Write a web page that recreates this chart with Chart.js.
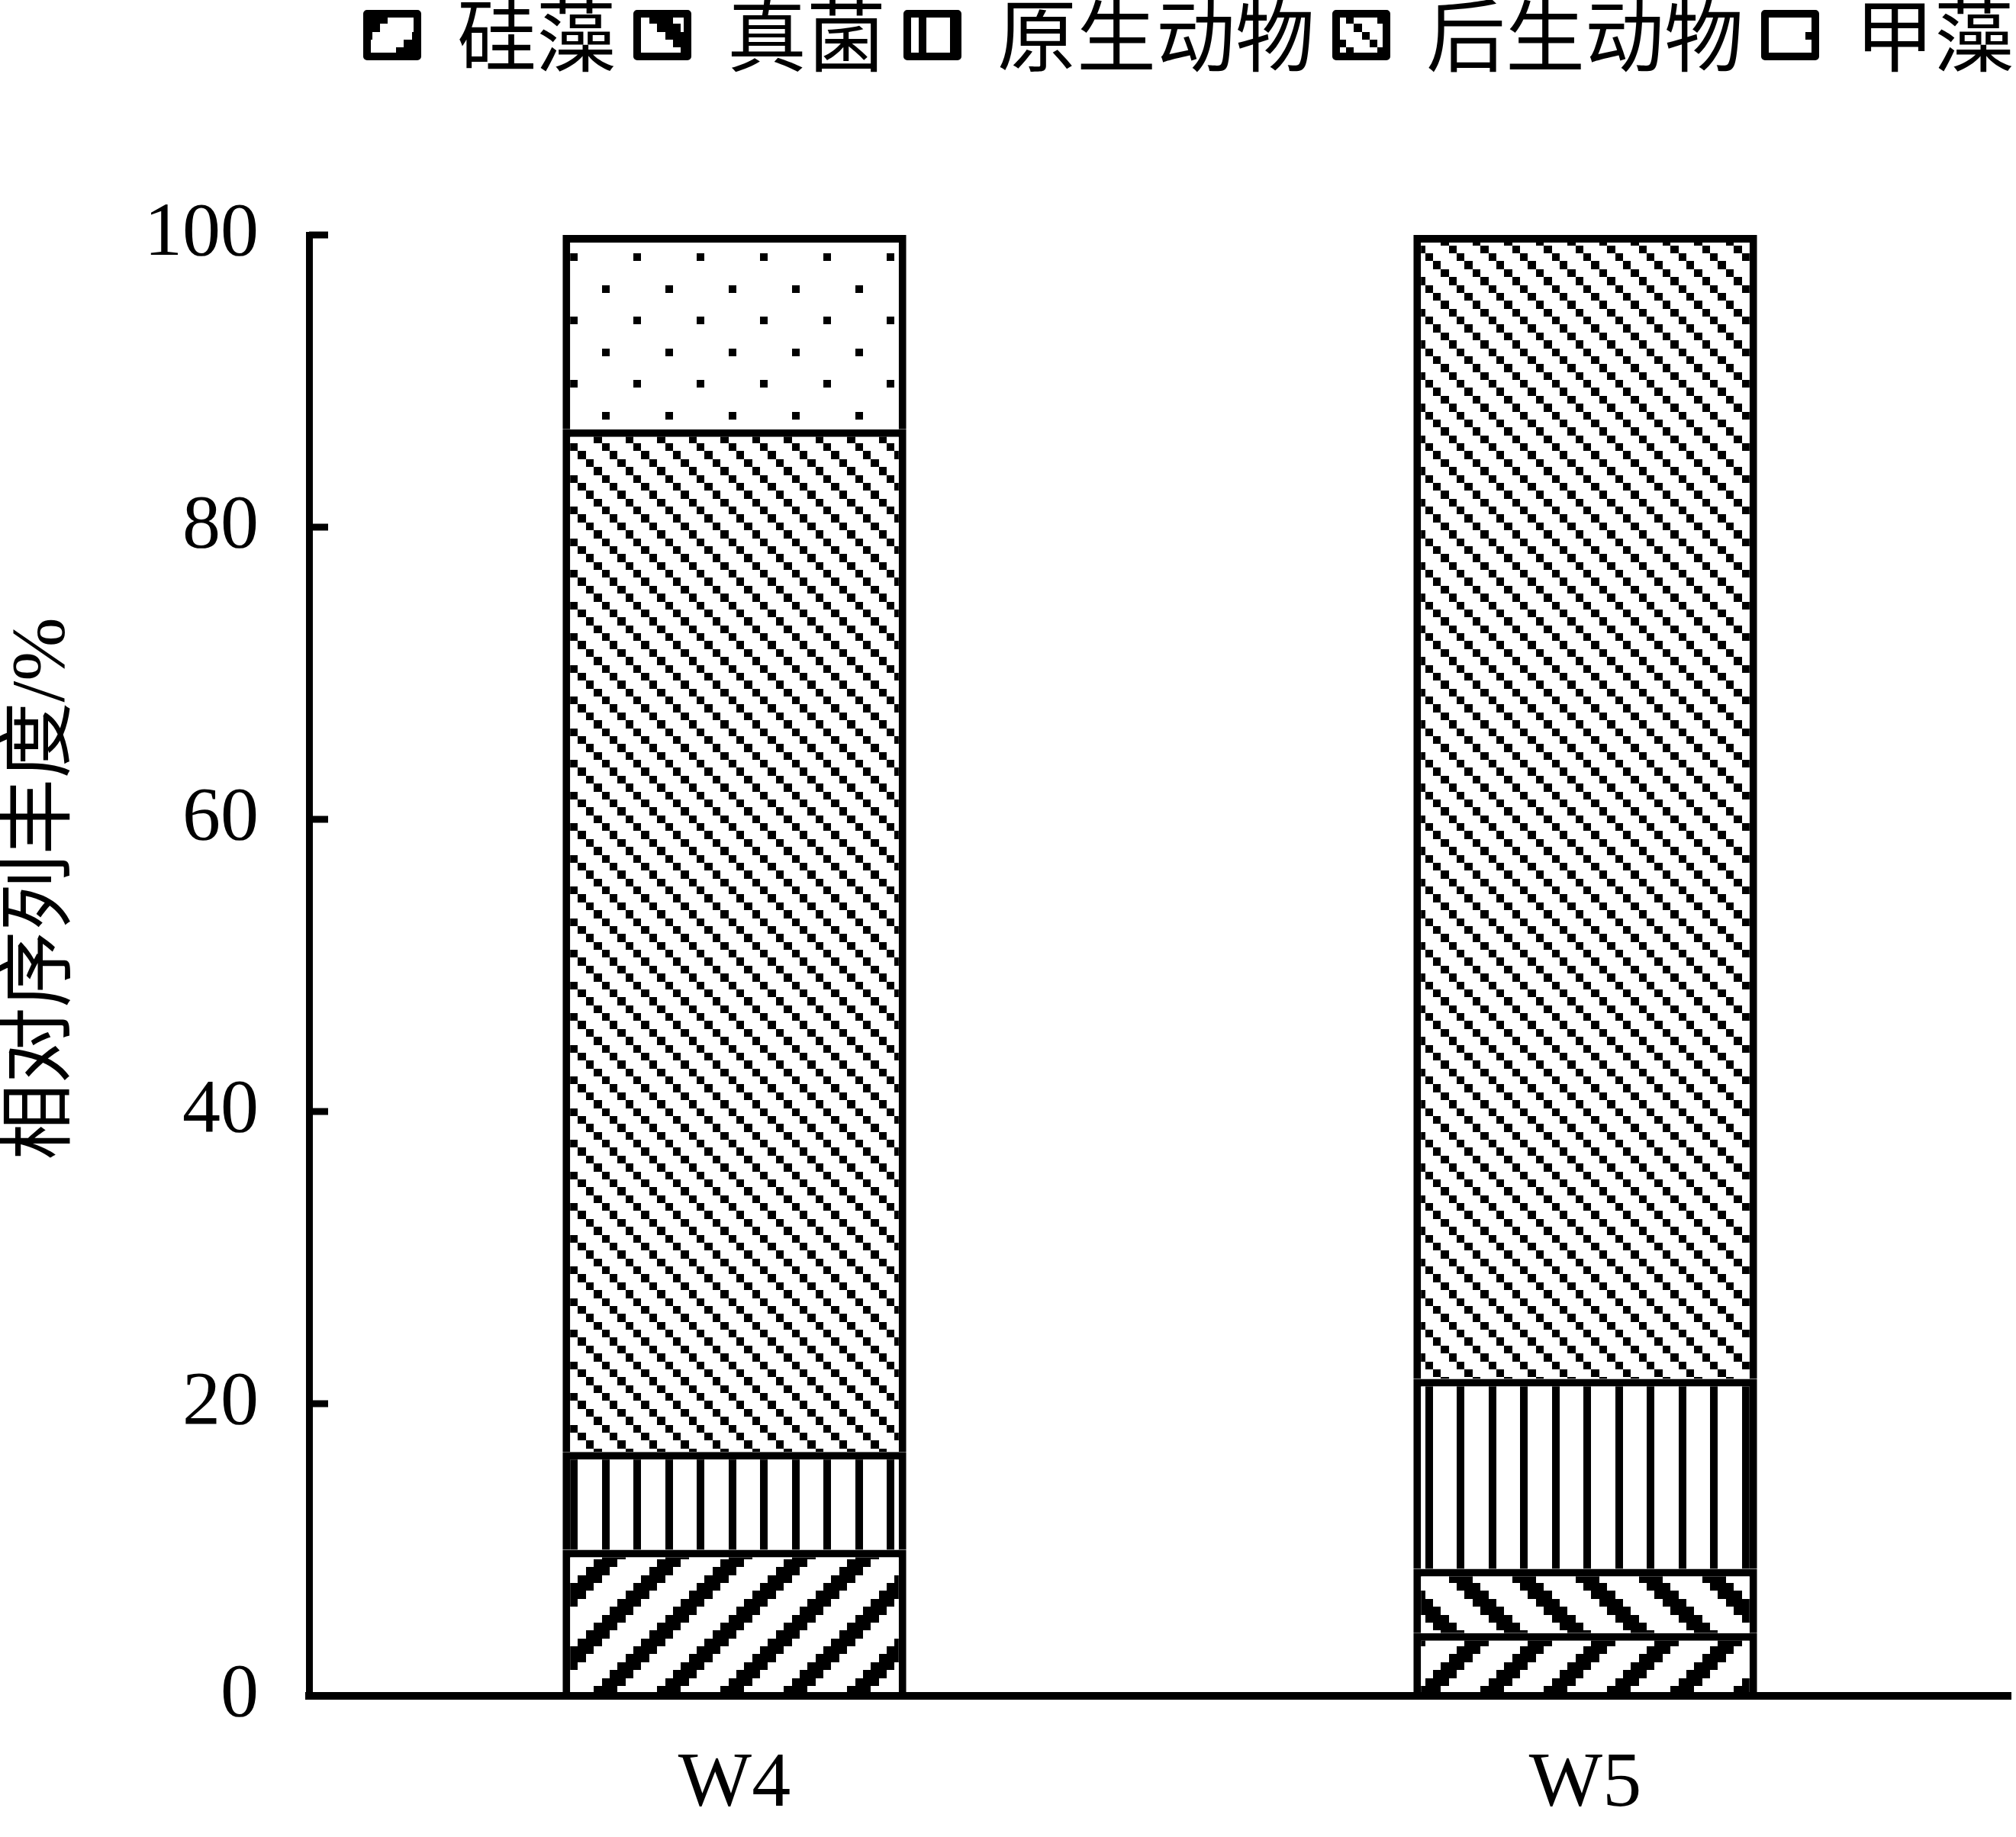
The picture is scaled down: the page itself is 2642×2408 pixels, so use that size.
<!DOCTYPE html>
<html lang="zh">
<head>
  <meta charset="UTF-8">
  <title>相对序列丰度</title>
  <script src="https://cdn.jsdelivr.net/npm/chart.js"></script>
  <style>
    html, body { margin: 0; padding: 0; background: #fff; }
    #wrap { width: 2642px; height: 2408px; }
  </style>
</head>
<body>
<div id="wrap"><canvas id="chart"></canvas></div>

<script>
  const sites = ['W4', 'W5'];
  const groups = ['硅藻', '真菌', '原生动物', '后生动物', '甲藻'];
  const diatoms = [10.0, 4.3];
  const fungi = [0, 4.4];
  const protozoa = [6.7, 13.0];
  const metazoa = [70.0, 78.3];
  const dinoflagellates = [13.3, 0];
  const yTicks = [0, 20, 40, 60, 80, 100];
  const yTitle = '相对序列丰度/%';

  const canvas = document.getElementById('chart');
  const ctx = canvas.getContext('2d');

  // 8x8 黑白点阵填充，每格约 10 px
  function pattern(on) {
    const n = 8, size = 83;
    const c = document.createElement('canvas');
    c.width = c.height = size;
    const g = c.getContext('2d');
    g.fillStyle = '#fff';
    g.fillRect(0, 0, size, size);
    g.fillStyle = '#000';
    const at = i => Math.round(i * size / n);
    for (let y = 0; y < n; y++) {
      for (let x = 0; x < n; x++) {
        if (on(x, y)) g.fillRect(at(x), at(y), at(x + 1) - at(x), at(y + 1) - at(y));
      }
    }
    return ctx.createPattern(c, 'repeat');
  }

  const fills = [
    pattern((x, y) => (x + y) % 8 < 3),          // 宽上斜线
    pattern((x, y) => (x - y + 8) % 8 < 3),      // 宽下斜线
    pattern((x, y) => x % 4 === 0),              // 竖线
    pattern((x, y) => (x - y + 8) % 4 === 0),    // 细下斜线
    pattern((x, y) => (x === 0 && y === 0) || (x === 4 && y === 4)) // 点
  ];
  const values = [diatoms, fungi, protozoa, metazoa, dinoflagellates];

  const serif = "'Liberation Serif', 'Noto Sans CJK SC'";

  // 图例占满图区上方的空白
  const legendSpace = {
    id: 'legendSpace',
    afterInit(chart) {
      const legend = chart.legend;
      const fit = legend.fit;
      legend.fit = function () { fit.call(this); this.height = 342; };
    }
  };

  // 向内的 y 轴刻度线
  const innerTicks = {
    id: 'innerTicks',
    afterDraw(chart) {
      const y = chart.scales.y, c = chart.ctx, left = chart.chartArea.left;
      c.save();
      c.strokeStyle = '#000';
      c.lineWidth = 9;
      y.ticks.forEach(t => {
        const py = y.getPixelForValue(t.value);
        c.beginPath();
        c.moveTo(left, py);
        c.lineTo(left + 25, py);
        c.stroke();
      });
      c.restore();
    }
  };

  const yAxisTitle = {
    id: 'yAxisTitle',
    afterDraw(chart) {
      const c = chart.ctx;
      c.save();
      c.translate(57, 1165);
      c.rotate(-Math.PI / 2);
      c.font = '100px ' + serif;
      c.fillStyle = '#000';
      c.textAlign = 'center';
      c.textBaseline = 'middle';
      c.fillText(yTitle, 0, 0);
      c.restore();
    }
  };

  new Chart(canvas, {
    type: 'bar',
    data: {
      labels: sites,
      datasets: groups.map((g, i) => ({
        label: g,
        data: values[i],
        backgroundColor: fills[i],
        borderColor: '#000',
        borderWidth: 10,
        borderSkipped: 'bottom',
        barPercentage: 0.404,
        categoryPercentage: 1
      }))
    },
    options: {
      responsive: true,
      maintainAspectRatio: false,
      animation: false,
      layout: { padding: { top: -34, right: -25, bottom: 0, left: 0 } },
      plugins: {
        legend: {
          position: 'top',
          align: 'end',
          labels: {
            boxWidth: 66,
            boxHeight: 56,
            padding: 28,
            color: '#000',
            font: { family: "'Noto Sans CJK SC'", size: 104 },
            generateLabels: chart => Chart.defaults.plugins.legend.labels.generateLabels(chart)
              .map(l => Object.assign(l, { lineJoin: 'round' }))
          }
        },
        tooltip: { enabled: false }
      },
      scales: {
        x: {
          stacked: true,
          grid: { display: false, drawTicks: false },
          border: { color: '#000', width: 10, z: 1 },
          ticks: { color: '#000', padding: 56, font: { family: serif, size: 102 } },
          afterFit: s => { s.height = 185; }
        },
        y: {
          stacked: true,
          min: 0,
          max: 100,
          grid: { display: false, drawTicks: false },
          border: { color: '#000', width: 9, z: 1 },
          ticks: { color: '#000', padding: 66, font: { family: serif, size: 100 } },
          afterBuildTicks: s => { s.ticks = yTicks.map(v => ({ value: v })); },
          afterFit: s => { s.width = 405; }
        },
        // 右侧留白，使图区右端停在 x 轴末端
        gap: {
          position: 'right',
          grid: { display: false, drawTicks: false },
          border: { display: false },
          ticks: { display: false },
          afterFit: s => { s.width = 32; }
        }
      }
    },
    plugins: [legendSpace, innerTicks, yAxisTitle]
  });
</script>
</body>
</html>
